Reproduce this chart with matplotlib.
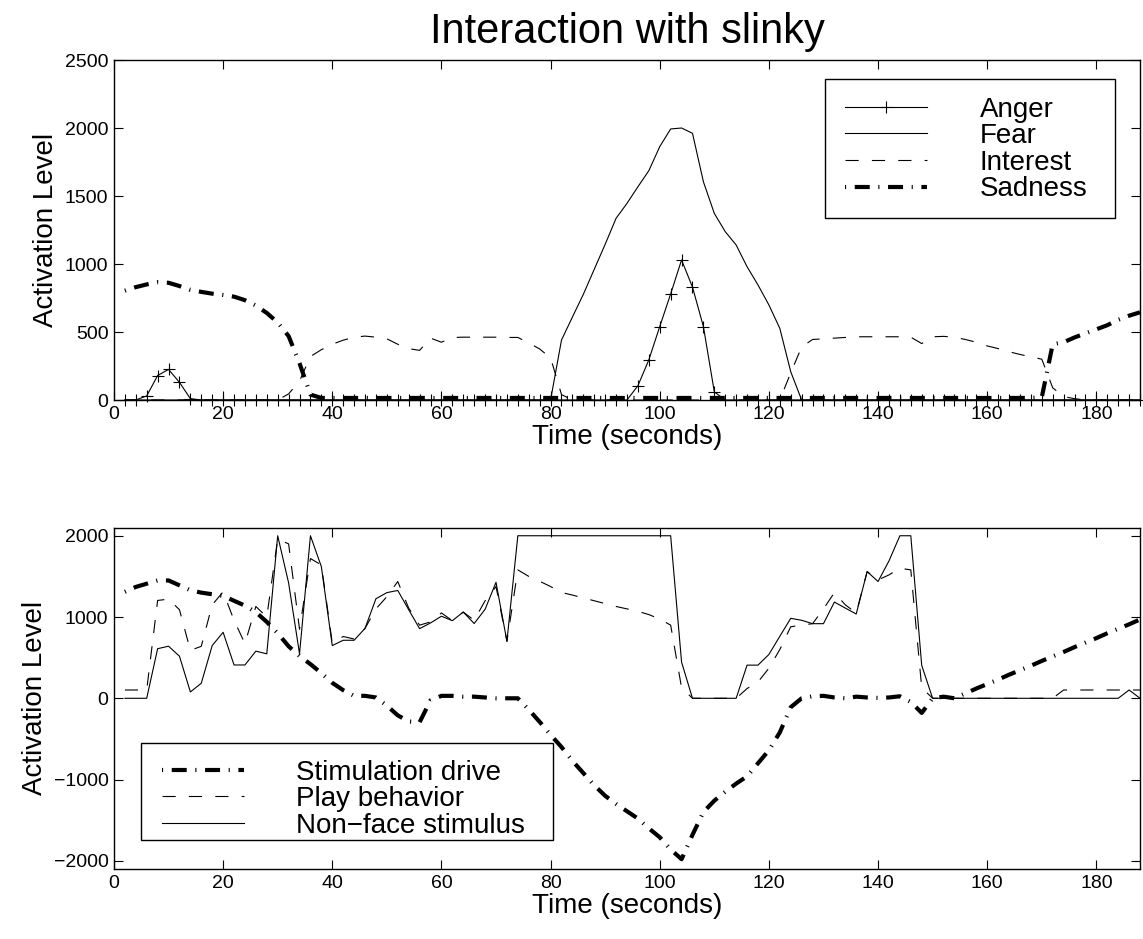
import matplotlib
matplotlib.use("Agg")
from matplotlib import pyplot as plt
from matplotlib.patches import Rectangle

plt.rcParams['font.family'] = ['Liberation Sans', 'DejaVu Sans']
plt.rcParams['lines.scale_dashes'] = False

# sample times (s)
time_s = list(range(2, 189, 2))

# emotions (top panel)
anger = [0, 0, 30, 180, 225, 130, 10, 0, 0, 0,
         0, 0, 0, 0, 0, 0, 0, 0, 0, 0,
         0, 0, 0, 0, 0, 0, 0, 0, 0, 0,
         0, 0, 0, 0, 0, 0, 0, 0, 0, 0,
         0, 0, 0, 0, 0, 0, 0, 105, 295, 540,
         780, 1030, 830, 540, 60, 0, 0, 0, 0, 0,
         0, 0, 0, 0, 0, 0, 0, 0, 0, 0,
         0, 0, 0, 0, 0, 0, 0, 0, 0, 0,
         0, 0, 0, 0, 0, 0, 0, 0, 0, 0,
         0, 0, 0, 0]
fear = [0, 0, 0, 0, 0, 0, 0, 0, 0, 0,
        0, 0, 0, 0, 0, 0, 0, 0, 0, 0,
        0, 0, 0, 0, 0, 0, 0, 0, 0, 0,
        0, 0, 0, 0, 0, 0, 0, 0, 0, 0,
        441, 610, 777, 961, 1145, 1336, 1446, 1568, 1686, 1863,
        1993, 2000, 1961, 1605, 1372, 1238, 1140, 980, 846, 699,
        527, 208, 0, 0, 0, 0, 0, 0, 0, 0,
        0, 0, 0, 0, 0, 0, 0, 0, 0, 0,
        0, 0, 0, 0, 0, 0, 0, 0, 0, 0,
        0, 0, 0, 0]
interest = [0, 0, 0, 0, 0, 0, 0, 0, 0, 0,
            0, 0, 0, 0, 0, 45, 140, 320, 370, 410,
            440, 462, 470, 462, 450, 410, 378, 365, 455, 425,
            460, 462, 462, 462, 462, 460, 460, 420, 375, 310,
            40, 0, 0, 0, 0, 0, 0, 0, 0, 0,
            0, 0, 0, 0, 0, 0, 0, 0, 0, 0,
            0, 200, 390, 445, 450, 455, 460, 465, 465, 465,
            465, 465, 462, 415, 465, 468, 462, 445, 425, 398,
            378, 355, 335, 318, 300, 90, 25, 10, 0, 0,
            0, 0, 0, 0]
sadness = [804, 830, 850, 866, 862, 838, 810, 795, 782, 772,
           760, 734, 695, 640, 570, 470, 270, 40, 15, 15,
           15, 15, 15, 15, 15, 15, 15, 15, 15, 15,
           15, 15, 15, 15, 15, 15, 15, 15, 15, 15,
           15, 15, 15, 15, 15, 15, 15, 15, 15, 15,
           15, 15, 15, 15, 15, 15, 15, 15, 15, 15,
           15, 15, 15, 15, 15, 15, 15, 15, 15, 15,
           15, 15, 15, 15, 15, 15, 15, 15, 15, 15,
           15, 15, 15, 15, 20, 410, 425, 460, 490, 520,
           550, 590, 620, 645]

# drive / behavior (bottom panel)
stim_drive = [1310, 1370, 1410, 1450, 1450, 1390, 1330, 1300, 1280, 1260,
              1200, 1140, 1060, 940, 800, 640, 520, 420, 310, 190,
              100, 30, 30, 10, -90, -210, -285, -295, -25, 30,
              30, 20, 20, 10, 0, 0, 0, -140, -290, -450,
              -600, -770, -920, -1070, -1200, -1300, -1390, -1480, -1600, -1710,
              -1860, -1980, -1680, -1400, -1260, -1150, -1050, -960, -800, -640,
              -420, -110, 0, 25, 30, 10, 0, 20, 10, 5,
              10, 25, -45, -180, 0, 20, 0, 60, 120, 175,
              230, 290, 345, 400, 460, 515, 570, 630, 685, 740,
              800, 855, 910, 970]
play = [102, 102, 102, 1204, 1220, 1090, 590, 640, 1150, 1310,
        960, 673, 1130, 1000, 1960, 1900, 850, 1720, 1640, 680,
        760, 730, 860, 1100, 1250, 1437, 1110, 900, 940, 1050,
        955, 1061, 960, 1200, 1375, 700, 1580, 1500, 1440, 1375,
        1302, 1270, 1235, 1200, 1165, 1130, 1100, 1070, 1030, 975,
        900, 130, 0, 0, 0, 0, 0, 120, 200, 370,
        600, 880, 900, 918, 1100, 1300, 1150, 1049, 1559, 1457,
        1518, 1600, 1580, 130, 0, 0, 0, 0, 0, 0,
        0, 0, 0, 0, 0, 0, 102, 102, 102, 102,
        102, 102, 102, 102]
nonface = [0, 0, 0, 610, 641, 518, 78, 185, 649, 812,
           410, 410, 580, 547, 2000, 1420, 547, 2000, 1620, 649,
           714, 714, 860, 1225, 1300, 1327, 1090, 857, 927, 1010,
           955, 1061, 920, 1095, 1427, 702, 2000, 2000, 2000, 2000,
           2000, 2000, 2000, 2000, 2000, 2000, 2000, 2000, 2000, 2000,
           2000, 445, 0, 0, 0, 0, 0, 408, 408, 539,
           763, 984, 960, 918, 918, 1184, 1110, 1037, 1559, 1437,
           1690, 2000, 2000, 405, 0, 0, 0, 0, 0, 0,
           0, 0, 0, 0, 0, 0, 0, 0, 0, 0,
           0, 0, 102, 0]

# dot first, then the long dash (matlab style)
DASH_DOT = (17.0, (10.8, 6.2, 0.8, 6.2))
DASHED = (0, (9.5, 9.5))

W, H = 1143, 939
fig = plt.figure(figsize=(W / 100, H / 100), dpi=100)
ax1 = fig.add_axes([0.0997, 0.574, 0.8977, 0.3621])
ax2 = fig.add_axes([0.0997, 0.0746, 0.8977, 0.3635])

#top panel
ax1.plot(time_s, anger, color="black", lw=0.8, marker="+", ms=9, mew=0.8,
         label="Anger", clip_on=False)
ax1.plot(time_s, fear, color="black", lw=0.8, label="Fear", clip_on=False)
ax1.plot(time_s, interest, color="black", lw=0.8, linestyle=DASHED,
         label="Interest", clip_on=False)
ax1.plot(time_s, sadness, color="black", lw=3.0, linestyle=DASH_DOT,
         label="Sadness", clip_on=False)
ax1.set_ylim(0, 2500)
ax1.set_yticks([0, 500, 1000, 1500, 2000, 2500])

#bottom panel
ax2.plot(time_s, stim_drive, color="black", lw=3.0, linestyle=DASH_DOT,
         label="Stimulation drive")
ax2.plot(time_s, play, color="black", lw=0.8, linestyle=DASHED,
         label="Play behavior")
ax2.plot(time_s, nonface, color="black", lw=0.8, label="Non\u2212face stimulus")
ax2.set_ylim(-2100, 2100)
ax2.set_yticks([-2000, -1000, 0, 1000, 2000])

for ax in (ax1, ax2):
    ax.set_xlim(0, 188)
    ax.set_xticks(range(0, 181, 20))
    ax.tick_params(direction="in", top=True, right=True, length=6.5,
                   width=0.8, labelsize=14, pad=4)
    for sp in ax.spines.values():
        sp.set_linewidth(1.0)
    ax.set_xlabel("Time (seconds)", fontsize=20, labelpad=1)
    ax.set_ylabel("Activation Level", fontsize=20, labelpad=4)

ax1.set_title("Interaction with slinky", fontsize=30, pad=12)

# legend boxes drawn by hand (pixel corners of the reference frames)
def frame(ax, x0, y0, x1, y1):
    r = Rectangle((x0 / W, 1 - y1 / H), (x1 - x0) / W, (y1 - y0) / H,
                  transform=fig.transFigure, facecolor="white",
                  edgecolor="black", lw=1.0, zorder=4.9, clip_on=False)
    ax.add_patch(r)

frame(ax1, 825, 79.3, 1115, 218.3)
frame(ax2, 140.7, 743.3, 552.7, 840)

leg_kw = dict(fontsize=20, handlelength=2.95, handletextpad=1.9,
              labelspacing=0.02, borderpad=0.55, frameon=False,
              borderaxespad=0, loc="upper left",
              bbox_transform=fig.transFigure)
l1 = ax1.legend(bbox_to_anchor=(829.7 / W, 1 - 81.3 / H), **leg_kw)
l2 = ax2.legend(bbox_to_anchor=(146.4 / W, 1 - 744.3 / H), **leg_kw)
l1.set_zorder(5)
l2.set_zorder(5)

fig.savefig("out.png", dpi=100)
